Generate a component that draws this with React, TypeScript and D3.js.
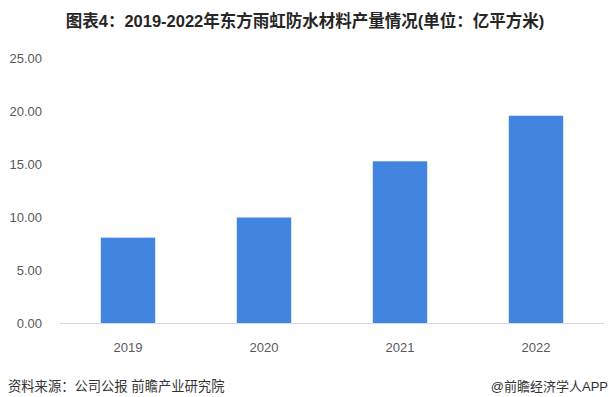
import React from "react";
import * as d3 from "d3";

const categories = ["2019", "2020", "2021", "2022"];
const values = [8.1, 10.0, 15.3, 19.6];
const yTicks = [0, 5, 10, 15, 20, 25];
const title = "图表4：2019-2022年东方雨虹防水材料产量情况(单位：亿平方米)";
const source = "资料来源：公司公报 前瞻产业研究院";
const credit = "@前瞻经济学人APP";

const W = 609;
const H = 397;
const FONT = "'Liberation Sans', Arial, 'Noto Sans CJK SC', sans-serif";

export default function App() {
  const x = d3.scaleBand<string>().domain(categories).range([60, 604]).paddingInner(0.6).paddingOuter(0.3);
  const y = d3.scaleLinear().domain([0, 25]).range([323.5, 58.5]);
  return (
    <svg width={W} height={H} style={{ position: "absolute", left: 0, top: 0, background: "#fff" }} fontFamily={FONT}>
      <text x={305} y={27} textAnchor="middle" fontSize={16.5} fontWeight="bold" fill="#262626">{title}</text>
      {yTicks.map((t) => (
        <text key={t} x={42} y={y(t)} dy="0.35em" textAnchor="end" fontSize={13} fill="#595959">{t.toFixed(2)}</text>
      ))}
      {categories.map((c, i) => (
        <rect key={c} x={x(c)} y={y(values[i])} width={x.bandwidth()} height={y(0) - y(values[i])} fill="#4285E0" />
      ))}
      <line x1={60} x2={604} y1={y(0)} y2={y(0)} stroke="#d9d9d9" strokeWidth={1} />
      {categories.map((c) => (
        <text key={c} x={(x(c) ?? 0) + x.bandwidth() / 2} y={347} dy="0.35em" textAnchor="middle" fontSize={13} fill="#595959">{c}</text>
      ))}
      <text x={8} y={391} fontSize={13.3} fill="#333">{source}</text>
      <text x={608} y={391} textAnchor="end" fontSize={13} fill="#333">{credit}</text>
    </svg>
  );
}
